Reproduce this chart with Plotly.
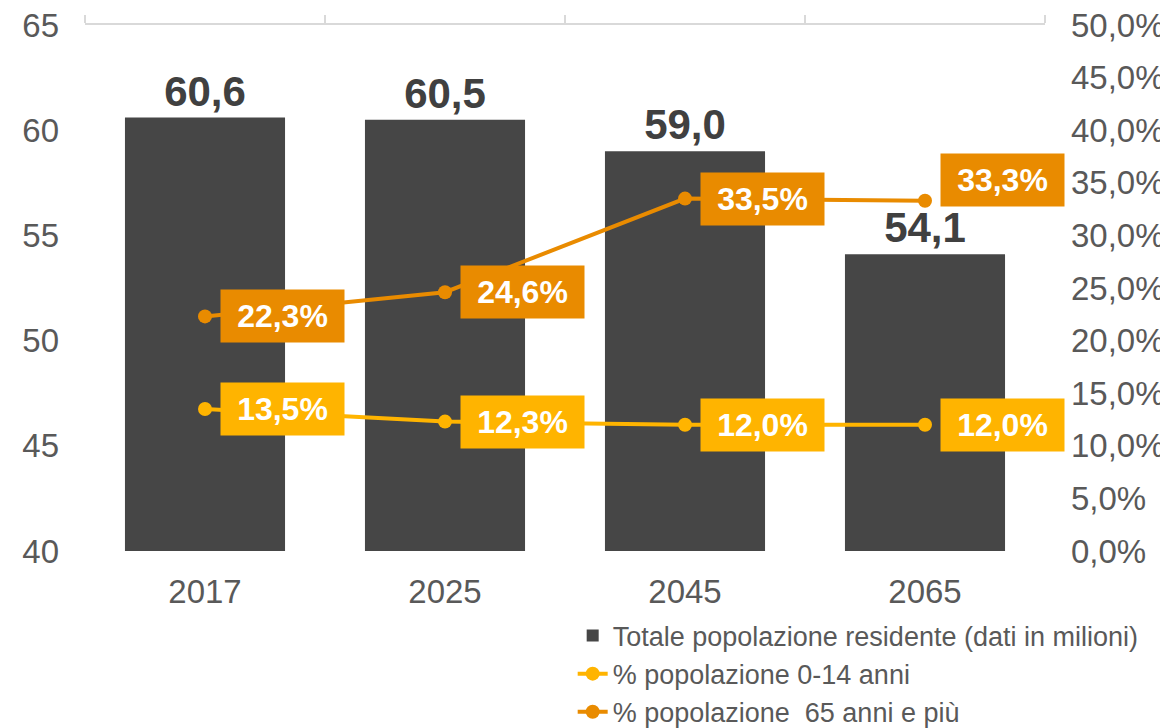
import plotly.graph_objects as go

anni = ['2017', '2025', '2045', '2065']
popolazione = [60.6, 60.5, 59.0, 54.1]
quota_0_14 = [0.135, 0.123, 0.120, 0.120]
quota_65 = [0.223, 0.246, 0.335, 0.333]

GRIGIO = '#464646'
GIALLO = '#FFB400'
ARANCIO = '#E98B00'
TESTO = '#595959'
FONT = 'Liberation Sans, Arial, sans-serif'

fig = go.Figure()

fig.add_trace(go.Bar(
    x=anni, y=popolazione, name='Totale popolazione residente (dati in milioni)',
    marker=dict(color=GRIGIO, line=dict(width=0)), width=0.667,
    texttemplate='%{y:.1f}', textposition='outside', cliponaxis=False,
    textfont=dict(family=FONT, size=42, color='#404040', weight='bold'),
))

# le linee stanno sull'asse x2 (in alto), che disegna la linea con le tacche
fig.add_trace(go.Scatter(
    x=anni, y=quota_0_14, xaxis='x2', yaxis='y2', name='% popolazione 0-14 anni',
    mode='lines+markers', line=dict(color=GIALLO, width=4),
    marker=dict(size=14, color=GIALLO),
))
fig.add_trace(go.Scatter(
    x=anni, y=quota_65, xaxis='x2', yaxis='y2', name='% popolazione  65 anni e più',
    mode='lines+markers', line=dict(color=ARANCIO, width=4),
    marker=dict(size=14, color=ARANCIO),
))

# etichette percentuali in riquadro
for serie, colore in ((quota_0_14, GIALLO), (quota_65, ARANCIO)):
    for i, v in enumerate(serie):
        yshift = 21 if (colore == ARANCIO and i == 3) else 0
        fig.add_annotation(
            x=i, y=v, xref='x2', yref='y2', xanchor='left', xshift=15, yshift=yshift,
            text=f'{v * 100:.1f}%'.replace('.', ','), showarrow=False,
            bgcolor=colore, width=123, height=52, borderpad=0,
            font=dict(family=FONT, size=32, color='white', weight='bold'),
        )

# la pagina ha 8px di margine del body: figura un po' piu' piccola
fig.update_layout(
    width=1160, height=720,
    margin=dict(l=77, r=123, t=17, b=177, autoexpand=False),
    plot_bgcolor='white', paper_bgcolor='white',
    separators=',.',
    font=dict(family=FONT, size=33, color=TESTO),
    showlegend=True,
    legend=dict(x=0.508, y=-0.115, xanchor='left', yanchor='top',
                font=dict(size=27, color=TESTO), tracegroupgap=0),
    xaxis=dict(type='category', categoryorder='array', categoryarray=anni,
               range=[-0.5, 3.5], showgrid=False, showline=False, ticks='',
               ticklabelstandoff=18),
    xaxis2=dict(type='category', overlaying='x', side='top', categoryorder='array',
                categoryarray=anni, range=[-0.5, 3.5], showticklabels=False,
                showline=True, linecolor='#D9D9D9', linewidth=2,
                ticks='outside', tickson='boundaries', ticklen=8,
                tickcolor='#D9D9D9', tickwidth=2, showgrid=False),
    yaxis=dict(range=[40, 65], dtick=5, showgrid=False, zeroline=False,
               showline=False, ticklabelstandoff=25, ticklabeloverflow='allow'),
    yaxis2=dict(range=[0, 0.5], dtick=0.05, tickformat='.1%', overlaying='y',
                side='right', showgrid=False, zeroline=False, showline=False,
                ticklabelstandoff=25, ticklabeloverflow='allow'),
)

fig.write_html('out.html')
